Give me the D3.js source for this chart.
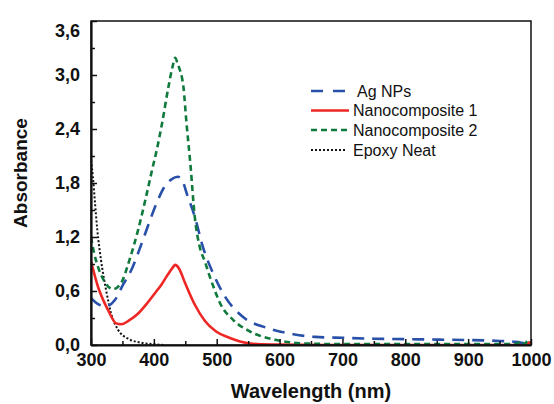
<!DOCTYPE html>
<html><head><meta charset="utf-8">
<script src="https://cdn.jsdelivr.net/npm/d3@7"></script>
<style>body{margin:0;background:#fff}svg{display:block}</style>
</head><body>
<script>
// ---- data ----
const agWl  = [300,310,324,338,351,364,377,391,404,417,428,438,447,452,465,478,494,513,542,580,622,656,700,750,800,850,900,950,975,990,1000];
const agAbs = [0.52,0.46,0.43,0.50,0.67,0.83,1.06,1.33,1.57,1.76,1.84,1.87,1.80,1.69,1.43,1.09,0.80,0.54,0.31,0.19,0.12,0.09,0.08,0.07,0.065,0.06,0.055,0.045,0.035,0.02,0.01];

const nc1Wl  = [300,311,327,340,348,360,375,390,401,412,422,430,434,440,449,465,481,499,520,537,564,600,700,800,900,980,988,993,997,1000];
const nc1Abs = [0.93,0.65,0.39,0.24,0.23,0.27,0.35,0.47,0.57,0.67,0.78,0.86,0.89,0.85,0.70,0.45,0.27,0.15,0.08,0.04,0.01,0.004,0,0,0,0,0.02,0,0.03,0.01];

const nc2Wl  = [300,305,311,322,335,348,361,375,388,397,405,413,423,430,434,438,447,452,458,465,473,481,489,499,505,526,553,595,648,700,800,900,975,985,990,995,1000];
const nc2Abs = [1.20,1.02,0.87,0.70,0.62,0.69,0.94,1.28,1.66,1.94,2.18,2.46,2.86,3.10,3.19,3.12,2.87,2.46,2.02,1.43,1.09,0.93,0.76,0.57,0.47,0.28,0.15,0.055,0.015,0.01,0.01,0.01,0.01,0.04,0.01,0.05,0.03];

const epWl  = [300,303,306,310,316,324,332,343,359,380,401,415];
const epAbs = [2.05,1.87,1.61,1.28,0.94,0.61,0.35,0.17,0.07,0.025,0.008,0.0];

const seriesNames = ["Ag NPs","Nanocomposite 1","Nanocomposite 2","Epoxy Neat"];

const xMajor = [300,400,500,600,700,800,900,1000];
const xMajorLabels = ["300","400","500","600","700","800","900","1000"];
const xMinor = [350,450,550,650,750,850,950];
const yMajor = [0,0.6,1.2,1.8,2.4,3.0,3.6];
const yMajorLabels = ["0,0","0,6","1,2","1,8","2,4","3,0","3,6"];
const yMinor = [0.3,0.9,1.5,2.1,2.7,3.3];

// ---- layout ----
const W = 554, H = 404;
const m = {left:91, top:21, right:23, bottom:59};
const iw = W - m.left - m.right, ih = H - m.top - m.bottom;

const svg = d3.select("body").append("svg").attr("width", W).attr("height", H);
const x = d3.scaleLinear().domain([300,1000]).range([0, iw]);
const y = d3.scaleLinear().domain([0,3.6]).range([ih, 0]);

const g = svg.append("g").attr("transform", `translate(${m.left},${m.top})`);

g.append("clipPath").attr("id","clip").append("rect")
  .attr("x",0).attr("y",-2).attr("width",iw+1).attr("height",ih+2);

const styles = [
  {color:"#2850a8", dash:"12,8", width:2.6},
  {color:"#ee2724", dash:null, width:2.6},
  {color:"#107a3c", dash:"6,4", width:2.6},
  {color:"#111111", dash:"2,2", width:2.0}
];
const seriesData = [
  d3.zip(agWl, agAbs), d3.zip(nc1Wl, nc1Abs), d3.zip(nc2Wl, nc2Abs), d3.zip(epWl, epAbs)
];

const line = d3.line().x(d => x(d[0])).y(d => y(d[1])).curve(d3.curveMonotoneX);

const lines = g.append("g").attr("clip-path","url(#clip)");
[3,1,0,2].forEach(i => {
  lines.append("path").datum(seriesData[i])
    .attr("fill","none")
    .attr("stroke", styles[i].color)
    .attr("stroke-width", styles[i].width)
    .attr("stroke-dasharray", styles[i].dash)
    .attr("d", line);
});

// frame
g.append("rect").attr("x",0).attr("y",0).attr("width",iw).attr("height",ih)
  .attr("fill","none").attr("stroke","#111").attr("stroke-width",1.5);

const font = "Liberation Sans, Arial, Helvetica, sans-serif";

// x axis
const xAxis = d3.axisBottom(x).tickValues(xMajor).tickSizeInner(-6).tickSizeOuter(0).tickPadding(8)
  .tickFormat((d,i) => xMajorLabels[i]);
const xg = g.append("g").attr("transform", `translate(0,${ih})`).call(xAxis);
xg.select(".domain").attr("stroke","#111").attr("stroke-width",2.2);
xg.selectAll(".tick line").attr("stroke","#111").attr("stroke-width",1.5);
xg.selectAll("text").attr("font-family",font).attr("font-size",18).attr("font-weight","bold").attr("fill","#111");
const xgm = g.append("g").attr("transform", `translate(0,${ih})`)
  .call(d3.axisBottom(x).tickValues(xMinor).tickSizeInner(-4).tickSizeOuter(0).tickFormat(""));
xgm.select(".domain").remove();
xgm.selectAll(".tick line").attr("stroke","#111").attr("stroke-width",1.5);

// y axis
const yAxis = d3.axisLeft(y).tickValues(yMajor).tickSizeInner(-6).tickSizeOuter(0).tickPadding(11)
  .tickFormat((d,i) => yMajorLabels[i]);
const yg = g.append("g").call(yAxis);
yg.select(".domain").attr("stroke","#111").attr("stroke-width",2.2);
yg.selectAll(".tick line").attr("stroke","#111").attr("stroke-width",1.5);
yg.selectAll("text").attr("font-family",font).attr("font-size",18).attr("font-weight","bold").attr("fill","#111");
yg.selectAll(".tick").filter(d => d === 3.6).select("text").attr("dy","0.85em");
const ygm = g.append("g")
  .call(d3.axisLeft(y).tickValues(yMinor).tickSizeInner(-4).tickSizeOuter(0).tickFormat(""));
ygm.select(".domain").remove();
ygm.selectAll(".tick line").attr("stroke","#111").attr("stroke-width",1.5);

// axis titles
svg.append("text").attr("x", m.left + iw/2).attr("y", 398)
  .attr("text-anchor","middle").attr("font-family",font).attr("font-size",20)
  .attr("font-weight","bold").attr("fill","#111").text("Wavelength (nm)");
svg.append("text").attr("transform","translate(27,173) rotate(-90)")
  .attr("text-anchor","middle").attr("font-family",font).attr("font-size",19)
  .attr("font-weight","bold").attr("fill","#111").text("Absorbance");

// legend
const leg = svg.append("g");
const rowY = [91, 110.5, 130, 150];
const textX = [357, 353, 353, 353];
seriesNames.forEach((name, i) => {
  const ls = styles[i];
  leg.append("line").attr("x1",311).attr("x2", i===3 ? 345 : 349)
    .attr("y1",rowY[i]).attr("y2",rowY[i])
    .attr("stroke",ls.color).attr("stroke-width", i===3 ? 2 : 2.4)
    .attr("stroke-dasharray", i===0 ? "12,10" : ls.dash);
  leg.append("text").attr("x",textX[i]).attr("y",rowY[i]+5.5)
    .attr("font-family",font).attr("font-size",16).attr("fill","#111").text(name);
});
</script>
</body></html>
